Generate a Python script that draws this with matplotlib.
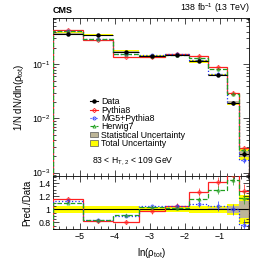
import numpy as np
import matplotlib
matplotlib.use("Agg")
import matplotlib.pyplot as plt
from matplotlib.lines import Line2D
from matplotlib.patches import Patch
from matplotlib.ticker import MultipleLocator, LogLocator, NullFormatter, FixedLocator

plt.rcParams['font.family'] = ['Liberation Sans', 'DejaVu Sans']
plt.rcParams['mathtext.fontset'] = 'custom'
plt.rcParams['mathtext.rm'] = 'Liberation Sans'
plt.rcParams['mathtext.it'] = 'Liberation Sans:italic'
plt.rcParams['mathtext.bf'] = 'Liberation Sans:bold'

# bin edges in ln(rho_tot)
edges = np.array([-5.77, -4.91, -4.06, -3.31, -2.57, -1.89, -1.34, -0.80, -0.46, -0.17])

# normalised data
data = np.array([0.37, 0.35, 0.172, 0.14, 0.146, 0.113, 0.063, 0.0196, 0.00223])
stat_unc = np.array([0.005, 0.005, 0.005, 0.005, 0.006, 0.01, 0.015, 0.05, 0.13])
tot_unc = np.array([0.05, 0.05, 0.05, 0.04, 0.04, 0.05, 0.05, 0.08, 0.22])

# prediction / data
r_pythia = np.array([1.15, 0.815, 0.80, 0.97, 1.05, 1.27, 1.42, 1.52, 1.28])
r_mg5 = np.array([1.13, 0.84, 0.90, 1.045, 1.05, 1.08, 1.05, 1.0, 0.76])
r_herwig = np.array([1.10, 0.83, 0.91, 1.03, 1.02, 1.15, 1.29, 1.45, 1.18])
e_pythia = np.array([0.04, 0.03, 0.03, 0.04, 0.04, 0.06, 0.08, 0.1, 0.1])
e_mg5 = np.array([0.02, 0.02, 0.02, 0.02, 0.03, 0.05, 0.08, 0.08, 0.1])
e_herwig = np.array([0.02, 0.02, 0.02, 0.02, 0.03, 0.04, 0.06, 0.08, 0.1])

centers = 0.5 * (edges[1:] + edges[:-1])
widths = np.diff(edges)

models = [
    ("Pythia8", r_pythia, e_pythia, "#ff2020", "-", "D"),
    ("MG5+Pythia8", r_mg5, e_mg5, "#2030ff", ":", "o"),
    ("Herwig7", r_herwig, e_herwig, "#20a020", "--", "^"),
]

c_stat = "#bdb597"
c_tot = "#ffff00"

fig = plt.figure(figsize=(2.54, 2.71), dpi=100)
ax = fig.add_axes([0.209, 0.351, 0.772, 0.583])
axr = fig.add_axes([0.209, 0.155, 0.772, 0.196])

# ---- top panel
ax.bar(edges[:-1], 2 * tot_unc * data, bottom=data * (1 - tot_unc), width=widths,
       align='edge', color=c_tot, lw=0, zorder=1)
ax.bar(edges[:-1], 2 * stat_unc * data, bottom=data * (1 - stat_unc), width=widths,
       align='edge', color=c_stat, lw=0, zorder=2)
for name, r, e, col, ls, mk in models:
    pred = r * data
    ax.stairs(pred, edges, color=col, ls=ls, lw=0.9, zorder=3)
    ax.errorbar(centers, pred, yerr=e * pred, fmt=mk, ms=2.2, mfc='none', mec=col,
                mew=0.6, ecolor=col, elinewidth=0.6, capsize=0, alpha=0.8, zorder=4)
ax.errorbar(centers, data, xerr=widths / 2, yerr=stat_unc * data, fmt='o', ms=2.2,
            color='black', elinewidth=0.8, capsize=0, zorder=5)

ax.set_yscale('log')
ax.set_xlim(edges[0], edges[-1])
ax.set_ylim(8.7e-4, 0.72)
ax.set_ylabel("1/N dN/dln(ρ$_{\\mathrm{tot}}$)", fontsize=7)
ax.tick_params(labelbottom=False)

handles = [
    Line2D([], [], color='black', marker='o', ms=2.2, lw=0.8),
]
for name, r, e, col, ls, mk in models:
    handles.append(Line2D([], [], color=col, ls=ls, lw=0.8, marker=mk, ms=2.2,
                          mfc='none', mec=col, mew=0.6))
handles.append(Patch(fc=c_stat, ec='#555555', lw=0.5))
handles.append(Patch(fc=c_tot, ec='#555555', lw=0.5))
labels = ["Data", "Pythia8", "MG5+Pythia8", "Herwig7",
          "Statistical Uncertainty", "Total Uncertainty"]
ax.legend(handles, labels, loc='upper left', bbox_to_anchor=(0.16, 0.53),
          frameon=False, fontsize=6.3, handlelength=1.0, handleheight=0.6,
          handletextpad=0.3, labelspacing=-0.08, borderpad=0.1)
ax.text(0.2, 0.095, "83 < H$_{\\mathrm{T,2}}$ < 109 GeV", transform=ax.transAxes,
        fontsize=6.2, va='center', ha='left')

fig.text(0.209, 0.945, "CMS", fontsize=6.5, fontweight='bold', ha='left', va='bottom')
fig.text(0.981, 0.945, "138 fb$^{-1}$ (13 TeV)", fontsize=6.3, ha='right', va='bottom')

# ---- ratio panel
axr.bar(edges[:-1], 2 * tot_unc, bottom=1 - tot_unc, width=widths, align='edge',
        color=c_tot, lw=0, zorder=1)
axr.bar(edges[:-1], 2 * stat_unc, bottom=1 - stat_unc, width=widths, align='edge',
        color=c_stat, lw=0, zorder=2)
axr.axhline(1, color='black', lw=0.8, zorder=3)
for name, r, e, col, ls, mk in models:
    axr.stairs(r, edges, color=col, ls=ls, lw=0.9, zorder=4)
    axr.errorbar(centers, r, yerr=e, fmt=mk, ms=2.2, mfc='none', mec=col, mew=0.6,
                 ecolor=col, elinewidth=0.6, capsize=0, alpha=0.8, zorder=5)
axr.set_xlim(edges[0], edges[-1])
axr.set_ylim(0.7, 1.51)
axr.yaxis.set_major_locator(FixedLocator([0.8, 1.0, 1.2, 1.4]))
axr.yaxis.set_minor_locator(MultipleLocator(0.05))
axr.set_yticklabels(["0.8", "1", "1.2", "1.4"])
axr.set_ylabel("Pred./Data", fontsize=7)
axr.set_xlabel("ln(ρ$_{\\mathrm{tot}}$)", fontsize=7)

for a in (ax, axr):
    a.xaxis.set_major_locator(MultipleLocator(1))
    a.xaxis.set_minor_locator(MultipleLocator(0.2))
    a.tick_params(which='both', direction='in', top=True, right=True, labelsize=6.3,
                  width=0.5, pad=2)
    a.tick_params(which='major', length=4)
    a.tick_params(which='minor', length=2)
    for s in a.spines.values():
        s.set_linewidth(0.6)
ax.yaxis.set_major_locator(LogLocator(base=10))
ax.yaxis.set_minor_locator(LogLocator(base=10, subs=np.arange(2, 10)))
ax.yaxis.set_minor_formatter(NullFormatter())

fig.savefig("out.png", dpi=100)
